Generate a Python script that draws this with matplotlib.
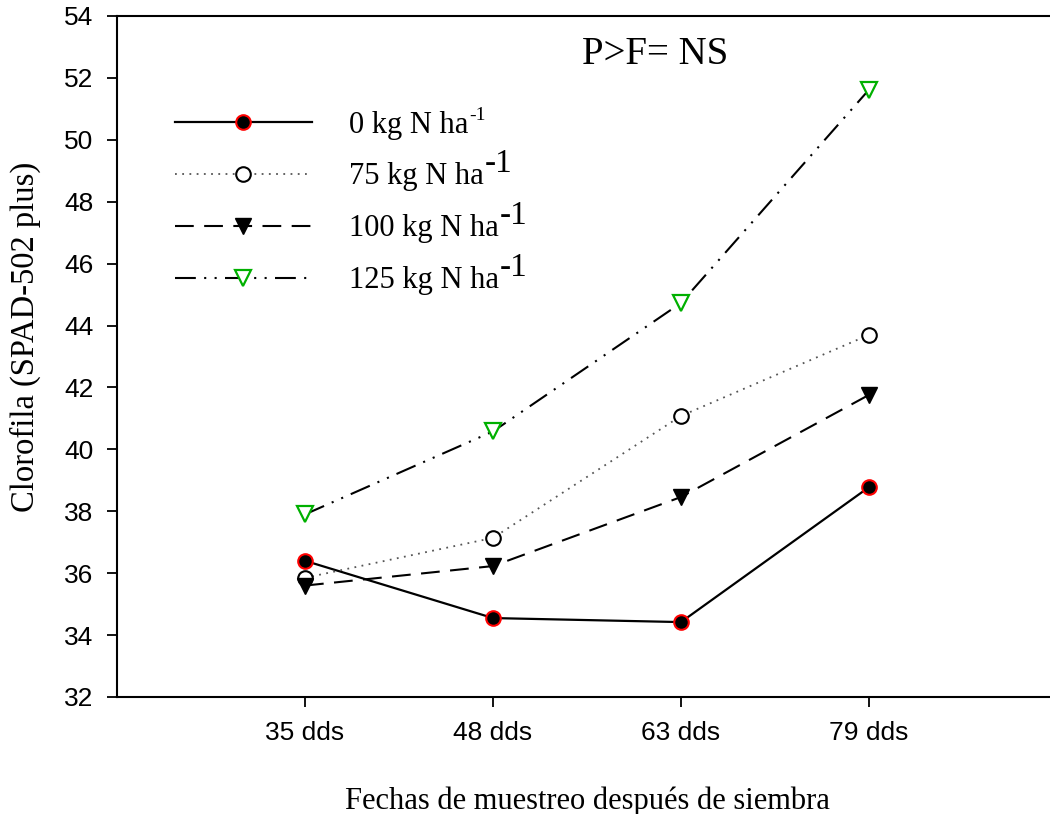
import matplotlib.pyplot as plt
from matplotlib.transforms import IdentityTransform

# --- Data ---
fechas = ['35 dds', '48 dds', '63 dds', '79 dds']
n0 = [36.4, 34.55, 34.42, 38.78]
n75 = [35.85, 37.14, 41.08, 43.7]
n100 = [35.6, 36.23, 38.46, 41.76]
n125 = [37.9, 40.58, 44.73, 51.62]
etiquetas = ['0 kg N ha', '75 kg N ha', '100 kg N ha', '125 kg N ha']
superindice = '-1'
tam_super = [14, 24, 24, 24]

W, H = 1050, 814
fig = plt.figure(figsize=(W / 100, H / 100), dpi=100)
ax = fig.add_axes([117 / W, (H - 697) / H, (1057 - 117) / W, (697 - 16) / H])

x = [1, 2, 3, 4]
ax.plot(x, n0, color='black', lw=1.6, ls='-', marker='o', ms=10.5,
        mfc='black', mec='red', mew=1.5, label=etiquetas[0])
ax.plot(x, n75, color='#555555', lw=1.3, ls=(0, (1, 3)), marker='o', ms=10.5,
        mfc='white', mec='black', mew=1.5, label=etiquetas[1])
ax.plot(x, n100, color='black', lw=1.5, ls=(0, (9, 5)), marker='v', ms=11,
        mfc='black', mec='black', label=etiquetas[2])
ax.plot(x, n125, color='black', lw=1.5, ls=(0, (10, 4, 1, 4, 1, 4)), marker='v', ms=11,
        mfc='white', mec='#00b000', mew=1.6, label=etiquetas[3])

ax.set_xlim(0, 5)
ax.set_ylim(32, 54)
ax.set_xticks(x)
ax.set_xticklabels(fechas, fontfamily='Liberation Sans', fontsize=19)
ax.set_yticks(range(32, 55, 2))
ax.set_yticklabels([str(v) for v in range(32, 55, 2)], fontfamily='Liberation Sans', fontsize=19)
ax.tick_params(direction='out', length=7, width=1.3, pad=10)
for s in ax.spines.values():
    s.set_linewidth(1.5)

ax.set_xlabel('Fechas de muestreo después de siembra', fontfamily='Liberation Serif',
              fontsize=22, labelpad=30)
ax.set_ylabel('Clorofila (SPAD-502 plus)', fontfamily='Liberation Serif',
              fontsize=23.5)
ax.yaxis.set_label_coords((41 - 117) / 940, (H - 337 - 117) / (697 - 16))

ax.text(655 / W, 1 - 55 / H, 'P>F= NS', transform=fig.transFigure, ha='center', va='center',
        fontfamily='Liberation Serif', fontsize=28)

leg = ax.legend(loc='upper left', bbox_to_anchor=(147 / W, 731 / H),
                bbox_transform=fig.transFigure, frameon=False,
                prop={'family': 'Liberation Serif', 'size': 22},
                handlelength=4.5, handletextpad=1.2, labelspacing=0.75, markerscale=1.0)

# superscripts "-1" next to each legend label
fig.canvas.draw()
rend = fig.canvas.get_renderer()
for t, sz in zip(leg.get_texts(), tam_super):
    bb = t.get_window_extent(rend)
    fig.text(bb.x1 + 1, bb.y0 + 19, superindice, transform=IdentityTransform(),
             ha='left', va='baseline', fontfamily='Liberation Serif', fontsize=sz)

fig.savefig('out.png', dpi=100)
